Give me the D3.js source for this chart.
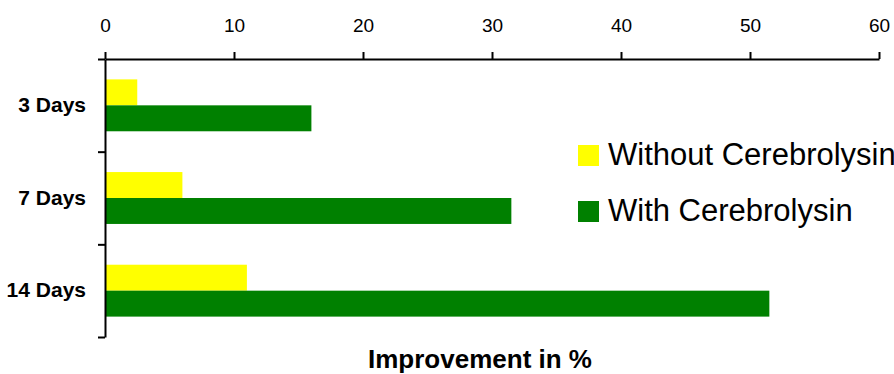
<!DOCTYPE html>
<html>
<head>
<meta charset="utf-8">
<script src="https://cdn.jsdelivr.net/npm/d3@7"></script>
<style>
  body { margin: 0; background: #fff; }
  svg { display: block; font-family: Arial, "Liberation Sans", sans-serif; }
  .axis path, .axis line { stroke: #000; stroke-width: 2; }
</style>
</head>
<body>
<div id="chart"></div>
<script>
const categories = ["3 Days", "7 Days", "14 Days"];
const seriesNames = ["Without Cerebrolysin", "With Cerebrolysin"];
const withoutValues = [2.5, 6, 11];
const withValues = [16, 31.5, 51.5];
const xTicks = [0, 10, 20, 30, 40, 50, 60];
const seriesColors = ["#ffff00", "#008000"];

const W = 894, H = 374;
const margin = { top: 59, right: 15, bottom: 37, left: 105 };

const svg = d3.select("#chart").append("svg")
  .attr("width", W)
  .attr("height", H);

// scales
const x = d3.scaleLinear()
  .domain([0, 60])
  .range([margin.left, W - margin.right]);

const y0 = d3.scaleBand()
  .domain(categories)
  .range([margin.top, H - margin.bottom])
  .paddingInner(0.44)
  .paddingOuter(0.22);

const y1 = d3.scaleBand()
  .domain(seriesNames)
  .range([0, y0.bandwidth()]);

const color = d3.scaleOrdinal().domain(seriesNames).range(seriesColors);

// bars
const rows = categories.map((c, i) => ({ cat: c, values: [withoutValues[i], withValues[i]] }));

const groups = svg.selectAll(".barGroup").data(rows).enter().append("g")
  .attr("class", "barGroup")
  .attr("transform", d => `translate(0, ${y0(d.cat)})`);

groups.selectAll("rect")
  .data(d => seriesNames.map((s, j) => ({ key: s, value: d.values[j] })))
  .enter().append("rect")
  .attr("x", x(0))
  .attr("y", d => y1(d.key))
  .attr("width", d => x(d.value) - x(0))
  .attr("height", y1.bandwidth())
  .attr("fill", d => color(d.key));

// top axis
const xAxis = svg.append("g")
  .attr("class", "axis")
  .attr("transform", `translate(0, ${margin.top})`)
  .call(d3.axisTop(x).tickValues(xTicks).tickSize(7).tickSizeOuter(0).tickPadding(20));
xAxis.selectAll("text")
  .attr("fill", "#000")
  .style("font-size", "19px")
  .style("font-family", "Arial, 'Liberation Sans', sans-serif");

// left axis: boundary ticks
const yLin = d3.scaleLinear().domain([0, categories.length]).range([margin.top, H - margin.bottom]);
svg.append("g")
  .attr("class", "axis")
  .attr("transform", `translate(${margin.left}, 0)`)
  .call(d3.axisLeft(yLin).ticks(categories.length).tickSize(7).tickSizeOuter(0).tickFormat(""));

// category labels
const yAxis = svg.append("g")
  .attr("class", "axis")
  .attr("transform", `translate(${margin.left}, 0)`)
  .call(d3.axisLeft(y0.copy().paddingInner(0).paddingOuter(0)).tickSize(0).tickPadding(19));
yAxis.select(".domain").remove();
yAxis.selectAll("text")
  .attr("fill", "#000")
  .style("font-size", "21px")
  .style("font-weight", "bold")
  .style("font-family", "Arial, 'Liberation Sans', sans-serif");

// axis title
svg.append("text")
  .attr("x", 480)
  .attr("y", 368)
  .attr("text-anchor", "middle")
  .style("font-size", "26px")
  .style("font-weight", "bold")
  .text("Improvement in %");

// legend
const legend = svg.selectAll(".legend").data(seriesNames).enter().append("g")
  .attr("class", "legend")
  .attr("transform", (d, i) => `translate(578, ${145 + i * 56})`);

legend.append("rect")
  .attr("width", 21)
  .attr("height", 21)
  .attr("fill", d => color(d));

legend.append("text")
  .attr("x", 30)
  .attr("y", 20)
  .style("font-size", "31px")
  .text(d => d);
</script>
</body>
</html>
